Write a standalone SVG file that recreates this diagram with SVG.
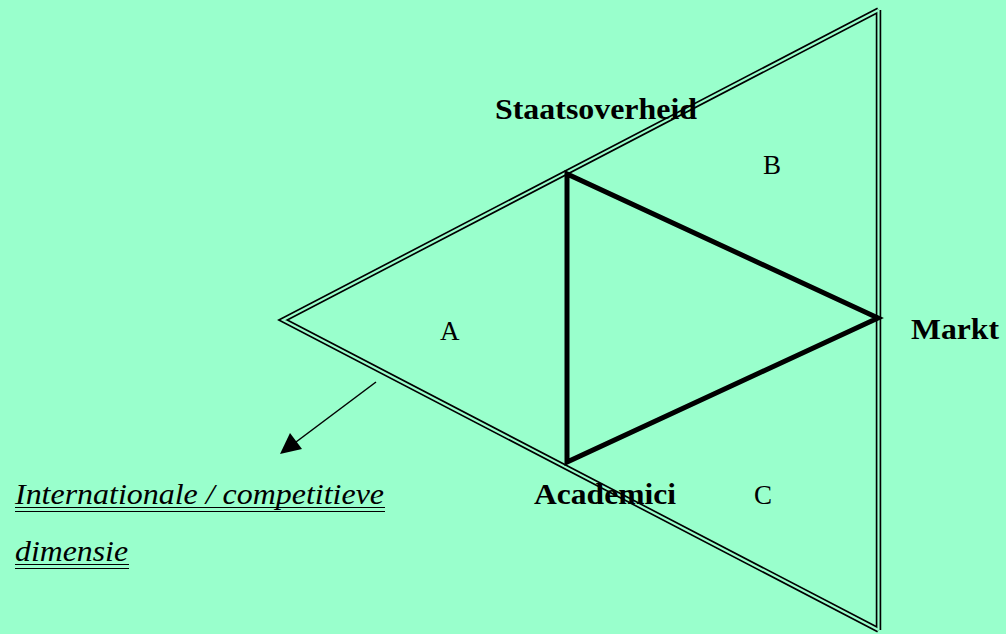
<svg xmlns="http://www.w3.org/2000/svg" width="1006" height="634" viewBox="0 0 1006 634">
<style>
.dbl{fill:none;stroke:#000;stroke-width:5.5}
.dblin{fill:none;stroke:#99ffcc;stroke-width:2.2}
.thick{fill:none;stroke:#000;stroke-width:5;stroke-linejoin:miter}
.b{font-family:"Liberation Serif",serif;font-weight:bold;font-size:30px;fill:#000}
.r{font-family:"Liberation Serif",serif;font-size:27px;fill:#000}
.i{font-family:"Liberation Serif",serif;font-style:italic;font-size:29px;fill:#000}
</style>
<rect width="1006" height="634" fill="#99ffcc"/>
<g id="connectors">
<g id="outer-triangle">
<polyline class="dbl" points="878.5,10 283,320 878.5,630"/>
<line class="dbl" x1="878.5" y1="10" x2="878.5" y2="630"/>
<polyline class="dblin" points="878.5,10 283,320 878.5,630"/>
<line class="dblin" x1="878.5" y1="10" x2="878.5" y2="630"/>
</g>
<polygon id="inner-triangle" class="thick" points="567,174 567,462 878,318"/>
<line x1="376" y1="382" x2="292" y2="445" stroke="#000" stroke-width="1.5"/>
<polygon points="280,454 290,433 302,449" fill="#000"/>
</g>
<g id="node-staatsoverheid"><text class="b" x="495" y="119" textLength="202" lengthAdjust="spacingAndGlyphs">Staatsoverheid</text></g>
<g id="node-markt"><text class="b" x="911" y="339" textLength="88" lengthAdjust="spacingAndGlyphs">Markt</text></g>
<g id="node-academici"><text class="b" x="534" y="504" textLength="142" lengthAdjust="spacingAndGlyphs">Academici</text></g>
<g id="label-a"><text class="r" x="440" y="340">A</text></g>
<g id="label-b"><text class="r" x="763" y="174">B</text></g>
<g id="label-c"><text class="r" x="754" y="504">C</text></g>
<g id="label-dimensie">
<text class="i" x="15" y="504" textLength="369" lengthAdjust="spacingAndGlyphs">Internationale / competitieve</text>
<line x1="15" y1="507.5" x2="385" y2="507.5" stroke="#000" stroke-width="1"/>
<line x1="15" y1="511.5" x2="385" y2="511.5" stroke="#000" stroke-width="1"/>
<text class="i" x="15" y="561" textLength="113" lengthAdjust="spacingAndGlyphs">dimensie</text>
<line x1="15" y1="564.5" x2="129" y2="564.5" stroke="#000" stroke-width="1"/>
<line x1="15" y1="568.5" x2="129" y2="568.5" stroke="#000" stroke-width="1"/>
</g>
</svg>
